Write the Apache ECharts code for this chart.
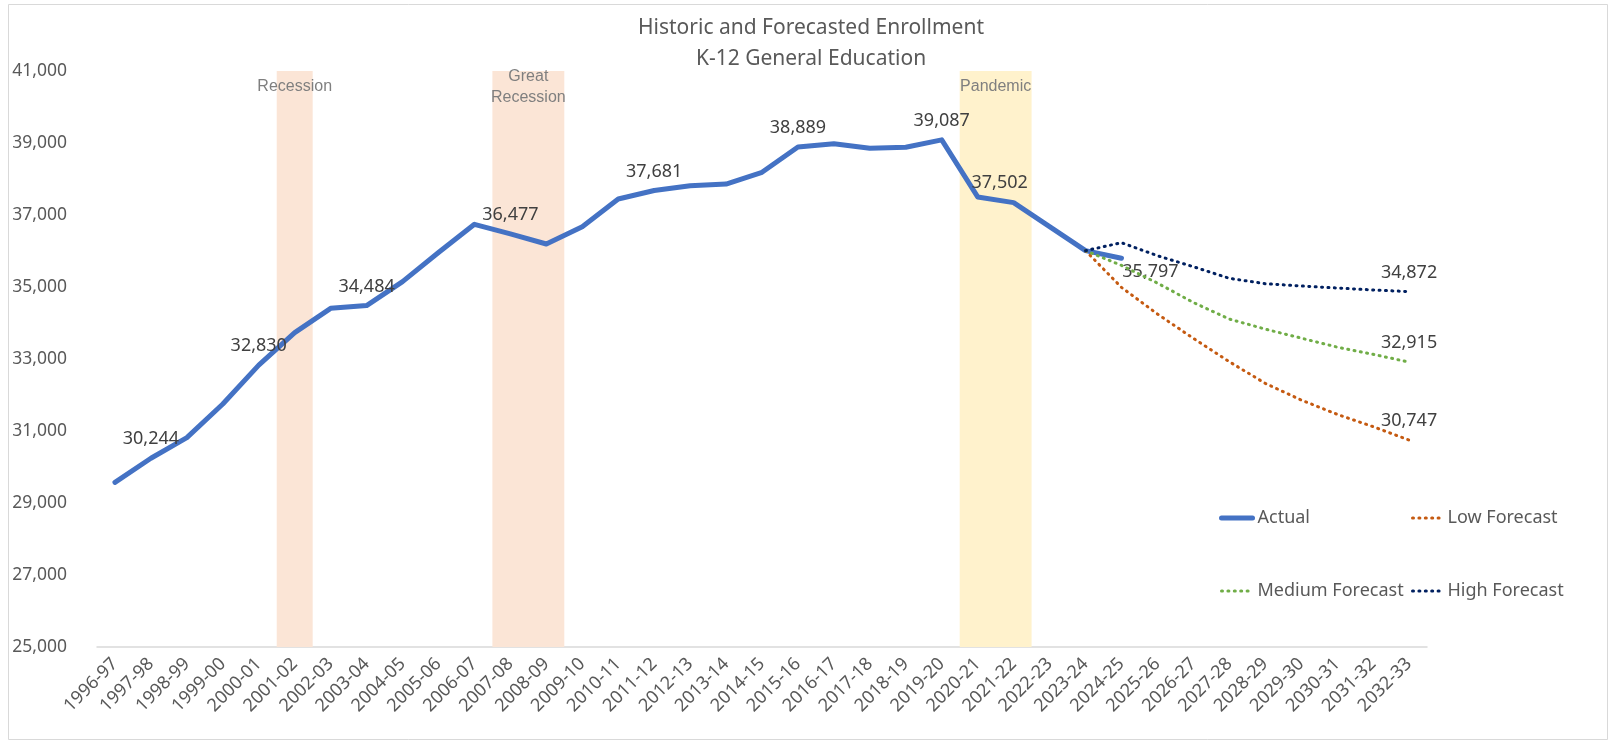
<!DOCTYPE html>
<html>
<head>
<meta charset="utf-8">
<script src="https://cdn.jsdelivr.net/npm/echarts@6/dist/echarts.min.js"></script>
<style>
  html, body { margin: 0; padding: 0; background: #ffffff; }
  #chart { width: 1613px; height: 744px; }
</style>
</head>
<body>
<div id="chart"></div>
<script>
// ---------- data ----------
const categories = ['1996-97','1997-98','1998-99','1999-00','2000-01','2001-02','2002-03','2003-04','2004-05','2005-06',
  '2006-07','2007-08','2008-09','2009-10','2010-11','2011-12','2012-13','2013-14','2014-15','2015-16',
  '2016-17','2017-18','2018-19','2019-20','2020-21','2021-22','2022-23','2023-24','2024-25','2025-26',
  '2026-27','2027-28','2028-29','2029-30','2030-31','2031-32','2032-33'];

const actual = [29575, 30244, 30815, 31750, 32830, 33731, 34407, 34484, 35148, 35960,
  36741, 36477, 36194, 36676, 37444, 37681, 37814, 37861, 38186, 38889,
  38980, 38852, 38880, 39087, 37502, 37343, 36676, 36009, 35797];

const forecastStart = '2023-24';
const lowForecast    = [36009, 34990, 34250, 33574, 32925, 32324, 31861, 31463, 31120, 30747];
const mediumForecast = [36009, 35600, 35110, 34570, 34110, 33830, 33580, 33330, 33130, 32915];
const highForecast   = [36009, 36231, 35870, 35564, 35241, 35092, 35028, 34972, 34917, 34872];

const labeledActual = ['1997-98','2000-01','2003-04','2007-08','2011-12','2015-16','2019-20','2020-21','2024-25'];

const bandNames = ['Recession', 'Great\nRecession', 'Pandemic'];
const bandFrom  = ['2001-02', '2007-08', '2020-21'];
const bandTo    = ['2001-02', '2008-09', '2021-22'];

const yTicks = { min: 25000, max: 41000, interval: 2000 };

// ---------- helpers ----------
const fmt = v => String(v).replace(/\B(?=(\d{3})+(?!\d))/g, ',');
const FONT = 'Noto Sans';
const labelBase = { show: true, color: '#404040', fontSize: 18, fontFamily: FONT, formatter: p => fmt(p.value) };
const startIdx = categories.indexOf(forecastStart);
const padForecast = arr => categories.map((c, i) => {
  const k = i - startIdx;
  if (k < 0 || k >= arr.length) return null;
  const item = { value: arr[k] };
  if (k === arr.length - 1) item.label = Object.assign({}, labelBase, { position: 'top', distance: 10 });
  return item;
});
const specialLabel = {
  '2020-21': { position: 'inside', offset: [22, -14] },
  '2024-25': { position: 'inside', offset: [29, 14] }
};
const actualData = actual.map((v, i) => {
  const item = { value: v };
  const c = categories[i];
  if (labeledActual.includes(c)) {
    item.label = Object.assign({}, labelBase, specialLabel[c] || { position: 'top', distance: 10 });
  }
  return item;
});
const bandColors = ['#FBE5D6', '#FBE5D6', '#FFF2CC'];
const bandAreas = bandNames.map((n, i) => [
  { name: n, xAxis: categories.indexOf(bandFrom[i]) - 0.5, itemStyle: { color: bandColors[i] } },
  { xAxis: categories.indexOf(bandTo[i]) + 0.5 }
]);

const dotted = (color) => ({ color: color, width: 3, type: [1, 5.4], cap: 'round', join: 'round' });
const legendText = { fontFamily: FONT, fontSize: 18, color: '#595959', lineHeight: 20 };

const chart = echarts.init(document.getElementById('chart'), null, { renderer: 'canvas' });
chart.setOption({
  animation: false,
  backgroundColor: '#ffffff',
  title: {
    text: 'Historic and Forecasted Enrollment\nK-12 General Education',
    left: 811, top: 13, padding: 0, textAlign: 'center',
    textStyle: { fontFamily: FONT, fontSize: 21, fontWeight: 'normal', color: '#595959', lineHeight: 31 }
  },
  graphic: [{
    type: 'rect', silent: true, z: -10,
    shape: { x: 8.5, y: 4.5, width: 1599, height: 735 },
    style: { fill: 'none', stroke: '#d9d9d9', lineWidth: 1 }
  }],
  legend: [
    {
      data: [
        { name: 'Actual', lineStyle: { width: 5, cap: 'round' } },
        { name: 'Medium Forecast', lineStyle: { width: 3 } }
      ],
      orient: 'vertical', left: 1214, top: 503,
      itemWidth: 31, itemHeight: 14, itemGap: 53, selectedMode: false,
      itemStyle: { opacity: 0 },
      textStyle: legendText
    },
    {
      data: [
        { name: 'Low Forecast', lineStyle: { width: 3 } },
        { name: 'High Forecast', lineStyle: { width: 3 } }
      ],
      orient: 'vertical', left: 1406, top: 503,
      itemWidth: 30, itemHeight: 14, itemGap: 53, selectedMode: false,
      itemStyle: { opacity: 0 },
      textStyle: legendText
    }
  ],
  grid: { left: 97, right: 186, top: 71, bottom: 97, containLabel: false },
  xAxis: [
    {
      type: 'category', data: categories, boundaryGap: true,
      axisLine: { lineStyle: { color: '#d9d9d9', width: 1.5 } },
      axisTick: { show: false },
      axisLabel: { rotate: 45, interval: 0, margin: 14, color: '#595959', fontSize: 18, fontFamily: FONT },
      splitLine: { show: false }
    },
    { type: 'value', min: -0.5, max: categories.length - 0.5, show: false }
  ],
  yAxis: {
    type: 'value', min: yTicks.min, max: yTicks.max, interval: yTicks.interval,
    axisLine: { show: false }, axisTick: { show: false }, splitLine: { show: false },
    axisLabel: { color: '#595959', fontSize: 17.5, fontFamily: FONT, margin: 30, formatter: v => fmt(v) }
  },
  series: [
    {
      name: 'bands', type: 'line', xAxisIndex: 1, data: [], silent: true, z: 0,
      markArea: {
        silent: true,
        label: {
          show: true, position: ['50%', 16], align: 'center', verticalAlign: 'middle',
          color: '#7f7f7f', fontSize: 16, fontFamily: 'Liberation Sans', lineHeight: 21
        },
        data: bandAreas
      }
    },
    {
      name: 'Actual', type: 'line', data: actualData, z: 3,
      symbol: 'circle', symbolSize: 0, showSymbol: true, showAllSymbol: true,
      itemStyle: { color: '#4472C4' },
      lineStyle: { color: '#4472C4', width: 5, cap: 'round', join: 'round' },
      label: { show: false }
    },
    {
      name: 'Low Forecast', type: 'line', data: padForecast(lowForecast), z: 4,
      symbol: 'circle', symbolSize: 0, showAllSymbol: true,
      itemStyle: { color: '#C55A11' }, lineStyle: dotted('#C55A11'), label: { show: false }
    },
    {
      name: 'Medium Forecast', type: 'line', data: padForecast(mediumForecast), z: 4,
      symbol: 'circle', symbolSize: 0, showAllSymbol: true,
      itemStyle: { color: '#70AD47' }, lineStyle: dotted('#70AD47'), label: { show: false }
    },
    {
      name: 'High Forecast', type: 'line', data: padForecast(highForecast), z: 4,
      symbol: 'circle', symbolSize: 0, showAllSymbol: true,
      itemStyle: { color: '#002060' }, lineStyle: dotted('#002060'), label: { show: false }
    }
  ]
});
</script>
</body>
</html>
